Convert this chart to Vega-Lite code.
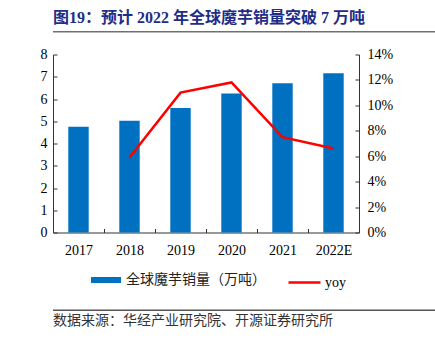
{
  "$schema": "https://vega.github.io/schema/vega-lite/v6.json",
  "padding": {"left": 22, "top": 10, "right": 0, "bottom": 0},
  "spacing": 12.5,
  "config": {"view": {"stroke": null}, "font": "Liberation Serif"},
  "vconcat": [
    {
      "width": 413,
      "height": 4,
      "title": {"text": "图19：预计 2022 年全球魔芋销量突破 7 万吨", "anchor": "start", "orient": "top", "font": "Liberation Serif, Noto Sans CJK SC", "fontSize": 16, "fontWeight": "bold", "color": "#1F2D87", "offset": 5},
      "data": {"values": [{"a": 0, "b": 1, "c": 1, "d": 0.62}]},
      "mark": {"type": "rect", "color": "#707070", "opacity": 1},
      "encoding": {
        "x": {"field": "a", "type": "quantitative", "scale": {"domain": [0, 1], "nice": false, "zero": false}, "axis": null},
        "x2": {"field": "b"},
        "y": {"field": "c", "type": "quantitative", "scale": {"domain": [0, 1], "nice": false, "zero": false}, "axis": null},
        "y2": {"field": "d"}
      }
    },
    {
      "width": 306,
      "height": 178,
      "data": {"values": [
        {"year": "2017", "sales": 4.75, "yoy": null},
        {"year": "2018", "sales": 5.02, "yoy": 0.059},
        {"year": "2019", "sales": 5.59, "yoy": 0.11},
        {"year": "2020", "sales": 6.25, "yoy": 0.118},
        {"year": "2021", "sales": 6.71, "yoy": 0.075},
        {"year": "2022E", "sales": 7.16, "yoy": 0.066}
      ]},
      "encoding": {
        "x": {"field": "year", "type": "nominal", "sort": null, "scale": {"paddingInner": 0, "paddingOuter": 0},
          "axis": {"title": null, "labelAngle": 0, "tickBand": "extent", "tickSize": -4, "labelPadding": 15, "domainColor": "#333333", "tickColor": "#333333", "labelFont": "Liberation Serif", "labelFontSize": 14, "labelColor": "#000000", "grid": false}}
      },
      "layer": [
        {
          "mark": {"type": "bar", "width": {"band": 0.4}},
          "encoding": {
            "y": {"field": "sales", "type": "quantitative", "scale": {"domain": [0, 8], "nice": false},
              "axis": {"title": null, "values": [0, 1, 2, 3, 4, 5, 6, 7, 8], "grid": false, "tickSize": -4, "labelPadding": 10, "minExtent": 31, "domainColor": "#333333", "tickColor": "#333333", "labelFont": "Liberation Serif", "labelFontSize": 14, "labelColor": "#000000"}},
            "fill": {"datum": "全球魔芋销量（万吨）", "scale": {"range": ["#0070C0"]},
              "legend": {"orient": "none", "legendX": 38, "legendY": 234, "title": null, "symbolType": "M-1,-0.2H1V0.2H-1Z", "symbolSize": 900, "symbolStrokeWidth": 0, "labelFont": "Noto Sans CJK SC", "labelFontSize": 14, "labelColor": "#222222", "labelOffset": 5, "padding": 0}}
          }
        },
        {
          "mark": {"type": "line", "strokeWidth": 2.5},
          "encoding": {
            "y": {"field": "yoy", "type": "quantitative", "scale": {"domain": [0, 0.14], "nice": false},
              "axis": {"orient": "right", "title": null, "format": ".0%", "values": [0, 0.02, 0.04, 0.06, 0.08, 0.1, 0.12, 0.14], "grid": false, "tickSize": -4, "labelPadding": 12, "domainColor": "#333333", "tickColor": "#333333", "labelFont": "Liberation Serif", "labelFontSize": 14, "labelColor": "#000000"}},
            "stroke": {"datum": "yoy", "scale": {"range": ["#FF0000"]},
              "legend": {"orient": "none", "legendX": 234, "legendY": 234, "title": null, "symbolType": "stroke", "symbolSize": 1024, "symbolStrokeWidth": 2.5, "labelFont": "Liberation Serif", "labelFontSize": 14, "labelColor": "#000000", "labelOffset": 3, "padding": 0}}
          }
        }
      ],
      "resolve": {"scale": {"y": "independent"}}
    },
    {
      "width": 413,
      "height": 27,
      "data": {"values": [{"a": 0}]},
      "mark": {"type": "point", "opacity": 0, "size": 0},
      "encoding": {}
    },
    {
      "width": 413,
      "height": 4,
      "title": {"text": "数据来源：华经产业研究院、开源证券研究所", "anchor": "start", "orient": "bottom", "font": "Noto Sans CJK SC", "fontSize": 14, "fontWeight": "normal", "color": "#333333", "offset": 0},
      "data": {"values": [{"a": 0, "b": 1, "c": 1, "d": 0.62}]},
      "mark": {"type": "rect", "color": "#555555", "opacity": 1},
      "encoding": {
        "x": {"field": "a", "type": "quantitative", "scale": {"domain": [0, 1], "nice": false, "zero": false}, "axis": null},
        "x2": {"field": "b"},
        "y": {"field": "c", "type": "quantitative", "scale": {"domain": [0, 1], "nice": false, "zero": false}, "axis": null},
        "y2": {"field": "d"}
      }
    }
  ]
}
